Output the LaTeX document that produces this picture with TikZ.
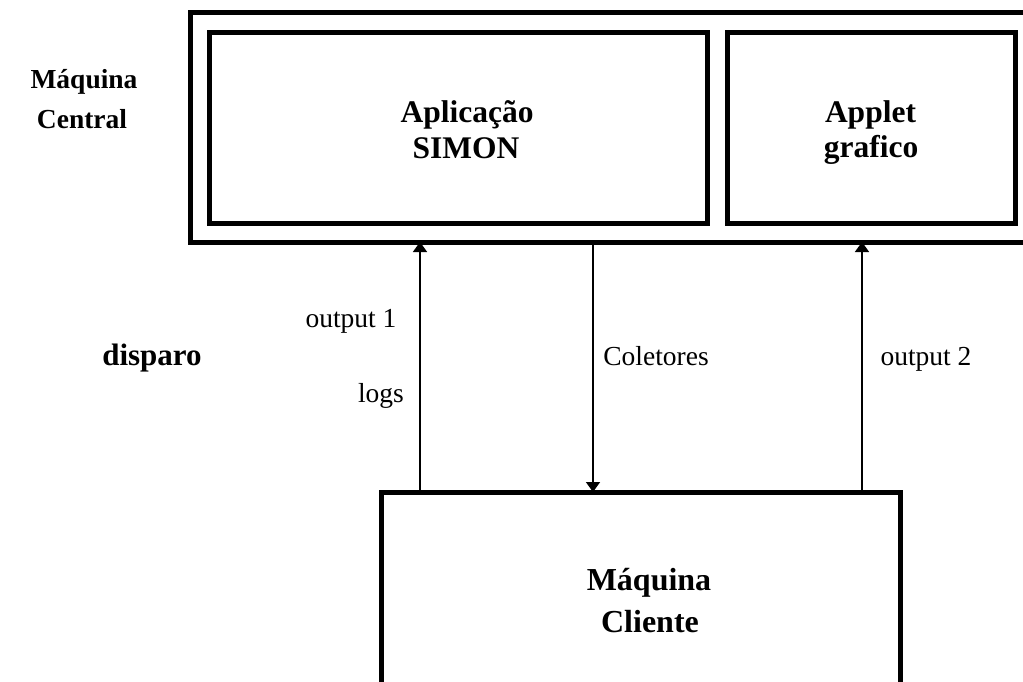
\documentclass[tikz,border=0pt]{standalone}
\usepackage{fontspec}
\setmainfont{Liberation Serif}
\usetikzlibrary{arrows.meta}
\begin{document}
\begin{tikzpicture}[x=1pt,y=-1pt,
  boxthick/.style={draw=black,line width=5pt,rectangle,inner sep=0pt,outer sep=0pt},
  arr/.style={line width=1.7pt,-{Triangle[width=14pt,length=10pt]}},
  bigbold/.style={font=\fontsize{31.5}{36}\selectfont\bfseries,inner sep=0pt,anchor=base},
  smallbold/.style={font=\fontsize{27.5}{32}\selectfont\bfseries,inner sep=0pt,anchor=base},
  clientbold/.style={font=\fontsize{32}{38}\selectfont\bfseries,inner sep=0pt,anchor=base},
  plain/.style={font=\fontsize{27.5}{32}\selectfont,inner sep=0pt,anchor=base}]
\useasboundingbox (0,0) rectangle (1023,681);
\clip (0,0) rectangle (1023,681);
\fill[white] (0,0) rectangle (1023,681);
% boxes
\node[boxthick,minimum width=840pt,minimum height=230pt] (central) at (610,127) {};
\node[boxthick,minimum width=498pt,minimum height=191pt] (app) at (458,127.5) {};
\node[boxthick,minimum width=288pt,minimum height=191pt] (applet) at (871,127.5) {};
\node[boxthick,minimum width=519pt,minimum height=228pt] (client) at (640.5,606) {};
% arrow columns
\coordinate (c1) at (420,0);
\coordinate (c2) at (593,0);
\coordinate (c3) at (862,0);
\draw[arr] (client.north -| c1) -- (central.south -| c1);
\draw[arr] (central.south -| c2) -- (client.north -| c2);
\draw[arr] (client.north -| c3) -- (central.south -| c3);
% texts
\node[smallbold] (mc1) at (84,88) {Máquina};
\node[smallbold] (mc2) at (82,128) {Central};
\node[bigbold] (ap1) at (467,122) {Aplicação};
\node[bigbold] (ap2) at (466,158) {SIMON};
\node[bigbold] (ag1) at (870.5,122) {Applet};
\node[bigbold] (ag2) at (871,157) {grafico};
\node[clientbold] (cl1) at (649,590) {Máquina};
\node[clientbold] (cl2) at (650,632) {Cliente};
\node[font=\fontsize{31}{36}\selectfont\bfseries,inner sep=0pt,anchor=base] (disp) at (152,365) {disparo};
\node[plain] (o1) at (351,327) {output 1};
\node[plain] (lg) at (381,402) {logs};
\node[plain] (col) at (656,365) {Coletores};
\node[plain] (o2) at (926,365) {output 2};
\end{tikzpicture}
\end{document}
